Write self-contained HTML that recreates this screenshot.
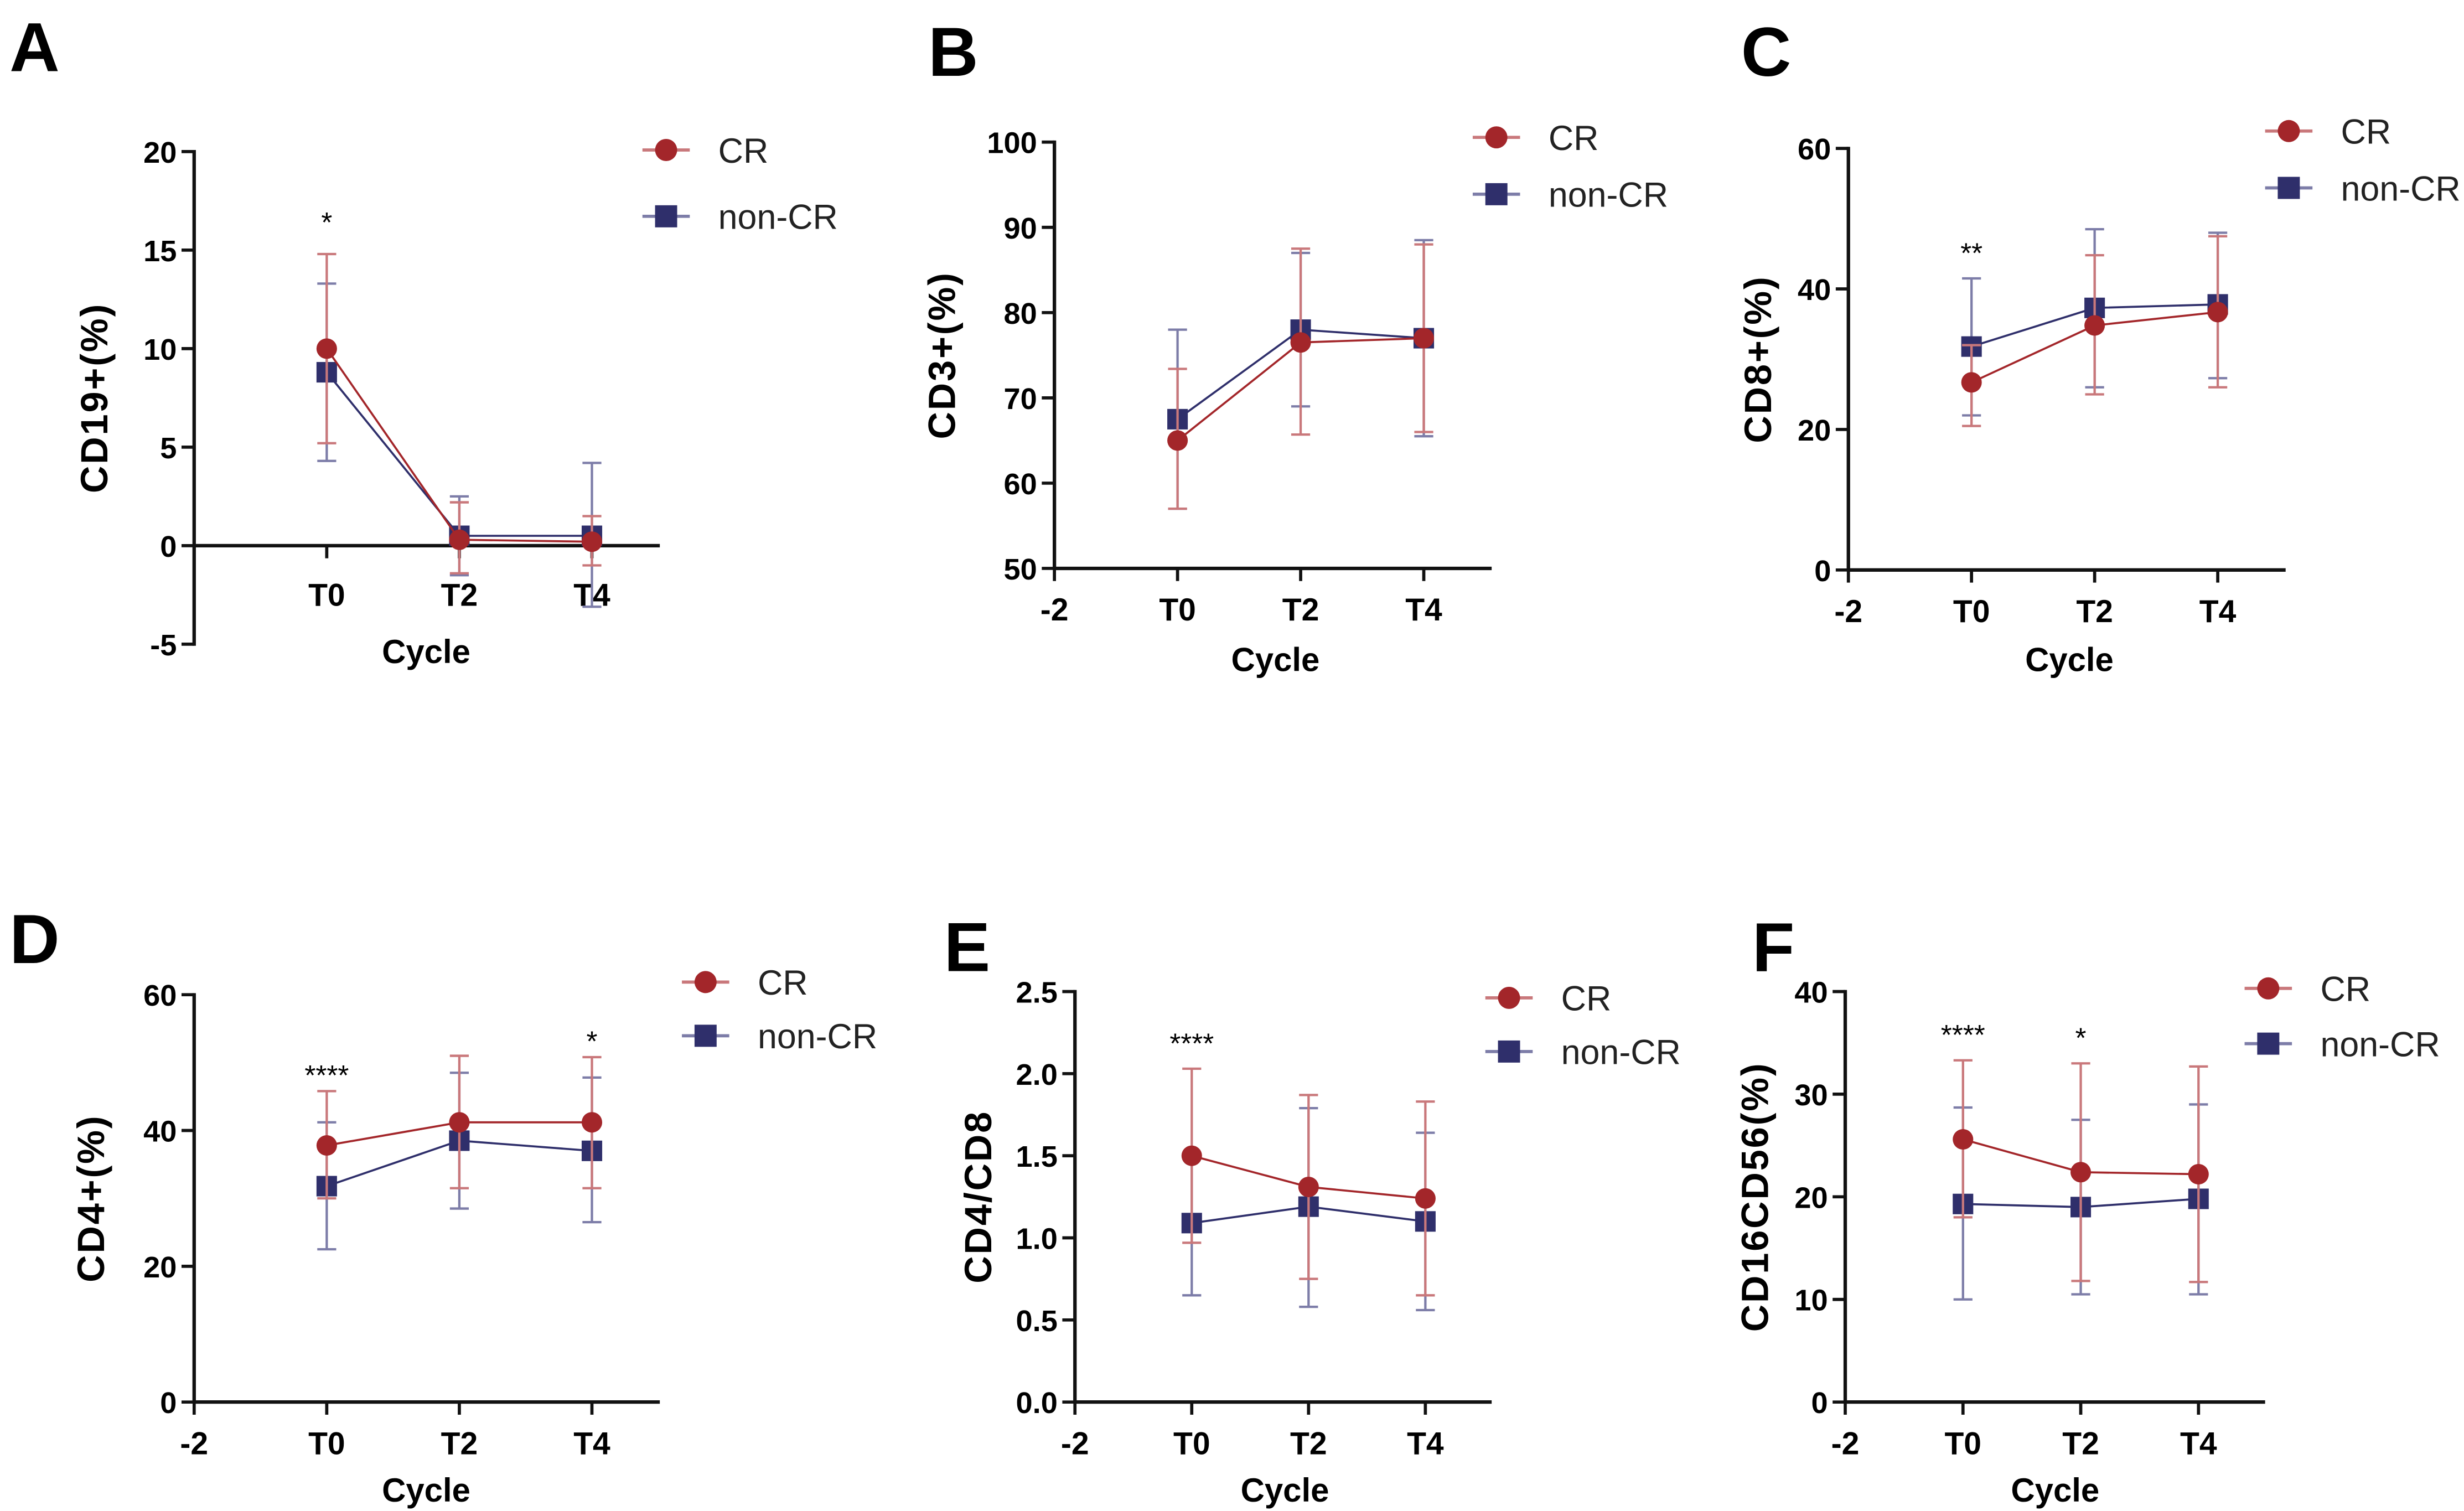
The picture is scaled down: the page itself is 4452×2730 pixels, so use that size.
<!DOCTYPE html>
<html><head><meta charset="utf-8"><style>
html,body{margin:0;padding:0;background:#fff;}
svg{display:block;}
text{font-family:"Liberation Sans",Arial,sans-serif;}
</style></head><body>
<svg id="fig" width="4452" height="2730" viewBox="0 0 1561 957" preserveAspectRatio="none" xmlns="http://www.w3.org/2000/svg"></svg>
<script>
// ---- data ----
const categories = ["T0","T2","T4"];
const catX = [0,2,4];
// Panel A CD19+
const aCR = [10.0,0.3,0.2], aCRhi=[14.8,2.2,1.5], aCRlo=[5.2,-1.4,-1.0];
const aNon = [8.8,0.5,0.5], aNonHi=[13.3,2.5,4.2], aNonLo=[4.3,-1.5,-3.1];
// Panel B CD3+
const bCR = [65,76.5,77], bCRhi=[73.4,87.5,88], bCRlo=[57,65.7,66];
const bNon = [67.5,78,77], bNonHi=[78,87,88.5], bNonLo=[57,69,65.5];
// Panel C CD8+
const cCR = [26.7,34.8,36.7], cCRhi=[32,44.8,47.5], cCRlo=[20.5,25,26];
const cNon = [31.8,37.3,37.8], cNonHi=[41.5,48.5,48], cNonLo=[22,26,27.3];
// Panel D CD4+
const dCR = [37.8,41.2,41.2], dCRhi=[45.8,51,50.8], dCRlo=[30,31.5,31.5];
const dNon = [31.8,38.5,37], dNonHi=[41.2,48.5,47.8], dNonLo=[22.5,28.5,26.5];
// Panel E CD4/CD8
const eCR = [1.5,1.31,1.24], eCRhi=[2.03,1.87,1.83], eCRlo=[0.97,0.75,0.65];
const eNon = [1.09,1.19,1.1], eNonHi=[1.5,1.79,1.64], eNonLo=[0.65,0.58,0.56];
// Panel F CD16CD56
const fCR = [25.6,22.4,22.2], fCRhi=[33.3,33,32.7], fCRlo=[18,11.8,11.7];
const fNon = [19.3,19,19.8], fNonHi=[28.7,27.5,29], fNonLo=[10,10.5,10.5];
const aTicks=[-5,0,5,10,15,20], bTicks=[50,60,70,80,90,100], cTicks=[0,20,40,60];
const dTicks=[0,20,40,60], eTicks=[0,0.5,1.0,1.5,2.0,2.5], fTicks=[0,10,20,30,40];
const aStars=["*","",""], bStars=["","",""], cStars=["**","",""];
const dStars=["****","","*"], eStars=["****","",""], fStars=["****","*",""];

const NS="http://www.w3.org/2000/svg";
const svg=document.getElementById('fig');
function mk(tag,attrs,parent,txt){const e=document.createElementNS(NS,tag);for(const k in attrs)e.setAttribute(k,attrs[k]);if(txt!==undefined)e.textContent=txt;(parent||svg).appendChild(e);return e;}
const RED="#a3262a", BLUE="#2f2f6b", RED_L="#c9787b", BLUE_L="#7d7da8";

function panel(o){
  const g=mk('g',{});
  
  
  const ymin=o.ticks[0], ymax=o.ticks[o.ticks.length-1];
  const Y=v=>o.yB+(v-ymin)/(ymax-ymin)*(o.yT-o.yB);
  const X=v=>o.x0+(v+2)*o.ux;
  const axY = o.zeroAxis ? Y(0) : o.yB;
  let t=mk('text',{x:o.lx,y:o.ly,'font-size':44,'font-weight':'bold'},g,o.id);
   
  let ya=mk('line',{x1:o.x0,y1:o.yT-1,x2:o.x0,y2:o.yB+1,stroke:'#111','stroke-width':2.2},g);
   
  o.ticks.forEach(v=>{
    mk('line',{x1:o.x0-8,y1:Y(v),x2:o.x0,y2:Y(v),stroke:'#111','stroke-width':2},g);
    let tl=mk('text',{x:o.x0-11,y:Y(v)+7,'font-size':19,'font-weight':'bold','text-anchor':'end'},g,o.fmt?v.toFixed(1):String(v));
     
  });
  let xa=mk('line',{x1:o.x0,y1:axY,x2:o.xEnd,y2:axY,stroke:'#111','stroke-width':2.2},g);
   
  const xt=[-2].concat(catX), xl=["-2"].concat(categories);
  xt.forEach((v,i)=>{
    if(o.noMinus2 && i===0) return;
    mk('line',{x1:X(v),y1:axY,x2:X(v),y2:axY+8,stroke:'#111','stroke-width':2},g);
    let tl=mk('text',{x:X(v),y:axY+(o.zeroAxis?38:33),'font-size':20,'font-weight':'bold','text-anchor':'middle'},g,xl[i]);
     
  });
  let xt2=mk('text',{x:o.cx,y:o.cy,'font-size':21,'font-weight':'bold','text-anchor':'middle'},g,'Cycle');
   
  let yt=mk('text',{x:0,y:0,'font-size':24,'font-weight':'bold','text-anchor':'middle',transform:`translate(${o.ytx},${(o.yT+o.yB)/2}) rotate(-90)`,'letter-spacing':1},g,o.ylabel);
   
  const series=[{v:o.non,hi:o.nonHi,lo:o.nonLo,c:BLUE,l:BLUE_L,sq:true,n:'non-cr'},{v:o.cr,hi:o.crHi,lo:o.crLo,c:RED,l:RED_L,sq:false,n:'cr'}];
  series.forEach(s=>{
    const sg=mk('g',{},g);
     
    s.v.forEach((v,i)=>{
      const x=X(catX[i]);
      mk('line',{x1:x,y1:Y(s.hi[i]),x2:x,y2:Y(s.lo[i]),stroke:s.l,'stroke-width':1.5},sg);
      mk('line',{x1:x-6,y1:Y(s.hi[i]),x2:x+6,y2:Y(s.hi[i]),stroke:s.l,'stroke-width':1.5},sg);
      mk('line',{x1:x-6,y1:Y(s.lo[i]),x2:x+6,y2:Y(s.lo[i]),stroke:s.l,'stroke-width':1.5},sg);
    });
    const pts=s.v.map((v,i)=>X(catX[i])+','+Y(v)).join(' ');
    mk('polyline',{points:pts,fill:'none',stroke:s.c,'stroke-width':1.3},sg);
    s.v.forEach((v,i)=>{
      const x=X(catX[i]),y=Y(v); let m;
      if(s.sq) m=mk('rect',{x:x-6.5,y:y-6.5,width:13,height:13,fill:s.c},sg);
      else m=mk('circle',{cx:x,cy:y,r:6.5,fill:s.c},sg);
       
    });
  });
  o.stars.forEach((s,i)=>{ if(!s) return;
    const hi=Math.max(o.crHi[i],o.nonHi[i]);
    let st=mk('text',{x:X(catX[i]),y:Y(hi)-10+o.starOff,'font-size':18,'text-anchor':'middle'},g,s);
     
  });
  const lg=mk('g',{},g);  
  [[RED_L,RED,false,'CR',0],[BLUE_L,BLUE,true,'non-CR',o.legGap]].forEach(e=>{
    const y=o.legY+e[4];
    const eg=mk('g',{},lg);  
    mk('line',{x1:o.legX,y1:y,x2:o.legX+30,y2:y,stroke:e[0],'stroke-width':2},eg);
    if(e[2]) mk('rect',{x:o.legX+8,y:y-7,width:14,height:14,fill:e[1]},eg);
    else mk('circle',{cx:o.legX+15,cy:y,r:7,fill:e[1]},eg);
    mk('text',{x:o.legX+48,y:y+8,'font-size':22,fill:'#222'},eg,e[3]);
  });
}
panel({id:'A',lx:6,ly:45,x0:123,ux:42,xEnd:418,yT:96,yB:408,ticks:aTicks,zeroAxis:true,noMinus2:true,cx:270,cy:420,ytx:68,ylabel:'CD19+(%)',
  cr:aCR,crHi:aCRhi,crLo:aCRlo,non:aNon,nonHi:aNonHi,nonLo:aNonLo,stars:aStars,starOff:-4,legX:407,legY:95,legGap:42});
panel({id:'B',lx:588,ly:48,x0:668,ux:39,xEnd:945,yT:90,yB:360,ticks:bTicks,cx:808,cy:425,ytx:605,ylabel:'CD3+(%)',
  cr:bCR,crHi:bCRhi,crLo:bCRlo,non:bNon,nonHi:bNonHi,nonLo:bNonLo,stars:bStars,starOff:0,legX:933,legY:87,legGap:36});
panel({id:'C',lx:1103,ly:48,x0:1171,ux:39,xEnd:1448,yT:94,yB:361,ticks:cTicks,cx:1311,cy:425,ytx:1122,ylabel:'CD8+(%)',
  cr:cCR,crHi:cCRhi,crLo:cCRlo,non:cNon,nonHi:cNonHi,nonLo:cNonLo,stars:cStars,starOff:0,legX:1435,legY:83,legGap:36});
panel({id:'D',lx:6,ly:610,x0:123,ux:42,xEnd:418,yT:630,yB:888,ticks:dTicks,cx:270,cy:951,ytx:66,ylabel:'CD4+(%)',
  cr:dCR,crHi:dCRhi,crLo:dCRlo,non:dNon,nonHi:dNonHi,nonLo:dNonLo,stars:dStars,starOff:6,legX:432,legY:622,legGap:34});
panel({id:'E',lx:598,ly:615,x0:681,ux:37,xEnd:945,yT:628,yB:888,ticks:eTicks,fmt:true,cx:814,cy:951,ytx:628,ylabel:'CD4/CD8',
  cr:eCR,crHi:eCRhi,crLo:eCRlo,non:eNon,nonHi:eNonHi,nonLo:eNonLo,stars:eStars,starOff:0,legX:941,legY:632,legGap:34});
panel({id:'F',lx:1110,ly:615,x0:1169,ux:37.3,xEnd:1435,yT:628,yB:888,ticks:fTicks,cx:1302,cy:951,ytx:1120,ylabel:'CD16CD56(%)',
  cr:fCR,crHi:fCRhi,crLo:fCRlo,non:fNon,nonHi:fNonHi,nonLo:fNonLo,stars:fStars,starOff:0,legX:1422,legY:626,legGap:35});
</script>
</body></html>
